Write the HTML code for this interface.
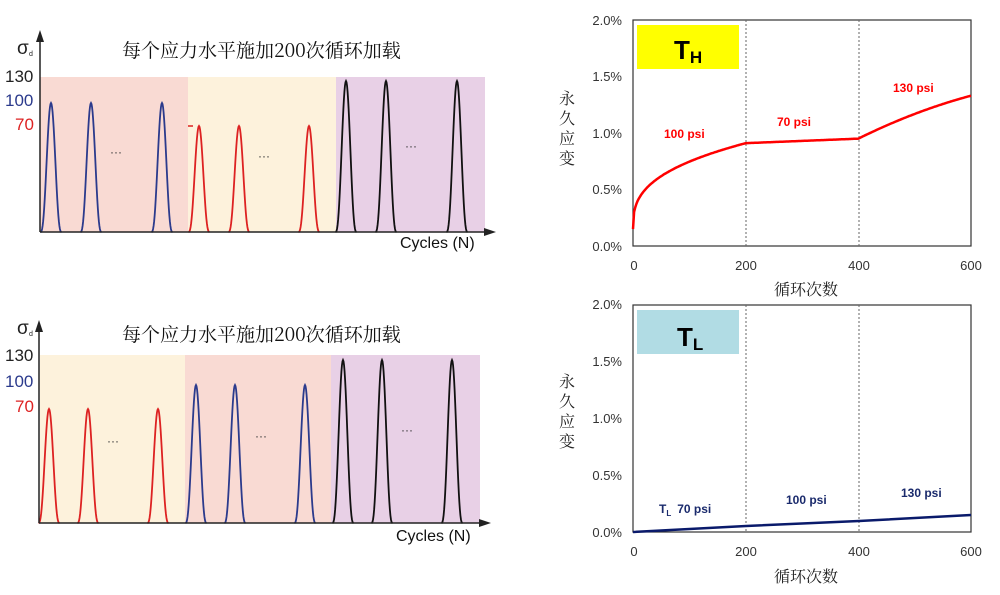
<!DOCTYPE html>
<html><head><meta charset="utf-8">
<style>
html,body{margin:0;padding:0;background:#fff;}
svg{display:block;font-family:"Liberation Sans","Noto Sans CJK SC",sans-serif;}
.cn{font-family:"Noto Serif CJK SC","Liberation Serif",serif;}
</style></head>
<body>
<svg id="s" width="1000" height="595" viewBox="0 0 1000 595" xmlns="http://www.w3.org/2000/svg">
<!-- Top left -->
<rect x="40" y="77" width="148" height="155" fill="#f9dad3"/>
<rect x="188" y="77" width="148" height="155" fill="#fdf2dc"/>
<rect x="336" y="77" width="149" height="155" fill="#e8d0e6"/>
<g id="tl"></g>
<line x1="40" y1="232" x2="485" y2="232" stroke="#222" stroke-width="1.5"/>
<polygon points="484,228 496,232 484,236" fill="#222"/>
<line x1="40" y1="232" x2="40" y2="40" stroke="#222" stroke-width="1.5"/>
<polygon points="36,42 40,30 44,42" fill="#222"/>
<text x="17" y="54" font-size="19" fill="#222">σ</text><text x="29" y="56" font-size="7" fill="#222">d</text>
<text x="5" y="82" font-size="17" fill="#222">130</text>
<text x="5" y="106" font-size="17" fill="#2b3a8c">100</text>
<text x="15" y="130" font-size="17" fill="#d22">70</text>
<line x1="188" y1="126" x2="193" y2="126" stroke="#d22" stroke-width="1.5"/>
<text x="122" y="57" font-size="19" class="cn" fill="#111">每个应力水平施加200次循环加载</text>
<text x="110" y="156" font-size="12" fill="#333">···</text>
<text x="258" y="160" font-size="12" fill="#333">···</text>
<text x="405" y="150" font-size="12" fill="#333">···</text>
<text x="400" y="248" font-size="16" fill="#111">Cycles (N)</text>

<!-- Bottom left -->
<rect x="40" y="355" width="145" height="168" fill="#fdf2dc"/>
<rect x="185" y="355" width="146" height="168" fill="#f9dad3"/>
<rect x="331" y="355" width="149" height="168" fill="#e8d0e6"/>
<g id="bl"></g>
<line x1="39" y1="523" x2="480" y2="523" stroke="#222" stroke-width="1.5"/>
<polygon points="479,519 491,523 479,527" fill="#222"/>
<line x1="39" y1="523" x2="39" y2="330" stroke="#222" stroke-width="1.5"/>
<polygon points="35,332 39,320 43,332" fill="#222"/>
<text x="17" y="334" font-size="19" fill="#222">σ</text><text x="29" y="336" font-size="7" fill="#222">d</text>
<text x="5" y="361" font-size="17" fill="#222">130</text>
<text x="5" y="387" font-size="17" fill="#2b3a8c">100</text>
<text x="15" y="412" font-size="17" fill="#d22">70</text>
<text x="122" y="341" font-size="19" class="cn" fill="#111">每个应力水平施加200次循环加载</text>
<text x="107" y="445" font-size="12" fill="#333">···</text>
<text x="255" y="440" font-size="12" fill="#333">···</text>
<text x="401" y="434" font-size="12" fill="#333">···</text>
<text x="396" y="541" font-size="16" fill="#111">Cycles (N)</text>

<!-- Top right -->
<rect x="633" y="20" width="338" height="226" fill="#fff" stroke="#333" stroke-width="1.2"/>
<line x1="746" y1="20" x2="746" y2="246" stroke="#666" stroke-dasharray="2,2"/>
<line x1="859" y1="20" x2="859" y2="246" stroke="#666" stroke-dasharray="2,2"/>
<rect x="637" y="25" width="102" height="44" fill="#ffff00"/>
<text x="674" y="59" font-size="26" font-weight="bold">T<tspan font-size="17" dy="4">H</tspan></text>
<path id="c1" fill="none" stroke="#f00" stroke-width="2.5"/>
<text x="664" y="138" font-size="12" font-weight="bold" fill="#f00">100 psi</text>
<text x="777" y="126" font-size="12" font-weight="bold" fill="#f00">70 psi</text>
<text x="893" y="92" font-size="12" font-weight="bold" fill="#f00">130 psi</text>
<g font-size="13" fill="#333" text-anchor="end">
<text x="622" y="25">2.0%</text><text x="622" y="81">1.5%</text><text x="622" y="138">1.0%</text><text x="622" y="194">0.5%</text><text x="622" y="251">0.0%</text>
</g>
<g font-size="13" fill="#333" text-anchor="middle">
<text x="634" y="270">0</text><text x="746" y="270">200</text><text x="859" y="270">400</text><text x="971" y="270">600</text>
</g>
<g class="cn" font-size="16" fill="#222" text-anchor="middle">
<text x="567" y="104">永</text><text x="567" y="124">久</text><text x="567" y="144">应</text><text x="567" y="164">变</text>
<text x="806" y="295">循环次数</text>
</g>

<!-- Bottom right -->
<rect x="633" y="305" width="338" height="227" fill="#fff" stroke="#333" stroke-width="1.2"/>
<line x1="746" y1="305" x2="746" y2="532" stroke="#666" stroke-dasharray="2,2"/>
<line x1="859" y1="305" x2="859" y2="532" stroke="#666" stroke-dasharray="2,2"/>
<rect x="637" y="310" width="102" height="44" fill="#b1dce4"/>
<text x="677" y="346" font-size="26" font-weight="bold">T<tspan font-size="17" dy="4">L</tspan></text>
<polyline points="633,532 746,526 859,521 971,515" fill="none" stroke="#0a1a6b" stroke-width="2.5"/>
<text x="659" y="513" font-size="12" font-weight="bold" fill="#1a2a6c">T<tspan font-size="8" dy="3">L</tspan><tspan dy="-3" dx="6">70 psi</tspan></text>
<text x="786" y="504" font-size="12" font-weight="bold" fill="#1a2a6c">100 psi</text>
<text x="901" y="497" font-size="12" font-weight="bold" fill="#1a2a6c">130 psi</text>
<g font-size="13" fill="#333" text-anchor="end">
<text x="622" y="309">2.0%</text><text x="622" y="366">1.5%</text><text x="622" y="423">1.0%</text><text x="622" y="480">0.5%</text><text x="622" y="537">0.0%</text>
</g>
<g font-size="13" fill="#333" text-anchor="middle">
<text x="634" y="556">0</text><text x="746" y="556">200</text><text x="859" y="556">400</text><text x="971" y="556">600</text>
</g>
<g class="cn" font-size="16" fill="#222" text-anchor="middle">
<text x="567" y="387">永</text><text x="567" y="407">久</text><text x="567" y="427">应</text><text x="567" y="447">变</text>
<text x="806" y="582">循环次数</text>
</g>
</svg>
<script>
var NS="http://www.w3.org/2000/svg";
function peak(g,cx,base,top,col){
  var d="",hw=10.5;
  for(var i=0;i<=40;i++){var x=cx-hw+i*hw/20;var t=(x-cx)/hw;var c=(1+Math.cos(Math.PI*t))/2;var y=base-(base-top)*Math.pow(c,1.3);d+=(i?"L":"M")+x.toFixed(2)+","+y.toFixed(2);}
  var p=document.createElementNS(NS,"path");p.setAttribute("d",d);p.setAttribute("fill","none");p.setAttribute("stroke",col);p.setAttribute("stroke-width","1.8");g.appendChild(p);
}
var tl=document.getElementById("tl"),bl=document.getElementById("bl");
[51,91,162].forEach(function(x){peak(tl,x,232,103,"#2b3a8c");});
[199,239,309].forEach(function(x){peak(tl,x,232,126,"#d22");});
[346,386,457].forEach(function(x){peak(tl,x,232,81,"#111");});
[49,88,158].forEach(function(x){peak(bl,x,523,409,"#d22");});
[196,235,305].forEach(function(x){peak(bl,x,523,385,"#2b3a8c");});
[343,382,452].forEach(function(x){peak(bl,x,523,360,"#111");});
var d="";
function X(n){return 633+n*338/600;} function Y(v){return 246-v*113;}
for(var n=0;n<=600;n+=2){var v;
 if(n<=200)v=0.15+0.76*Math.pow(n/200,0.35);
 else if(n<=400)v=0.91+0.04*(n-200)/200;
 else{var t=(n-400)/200;v=0.95+0.38*(t*1.3-0.3*t*t);}
 d+=(n?"L":"M")+X(n).toFixed(1)+","+Y(v).toFixed(1);}
document.getElementById("c1").setAttribute("d",d);
</script>
</body></html>
